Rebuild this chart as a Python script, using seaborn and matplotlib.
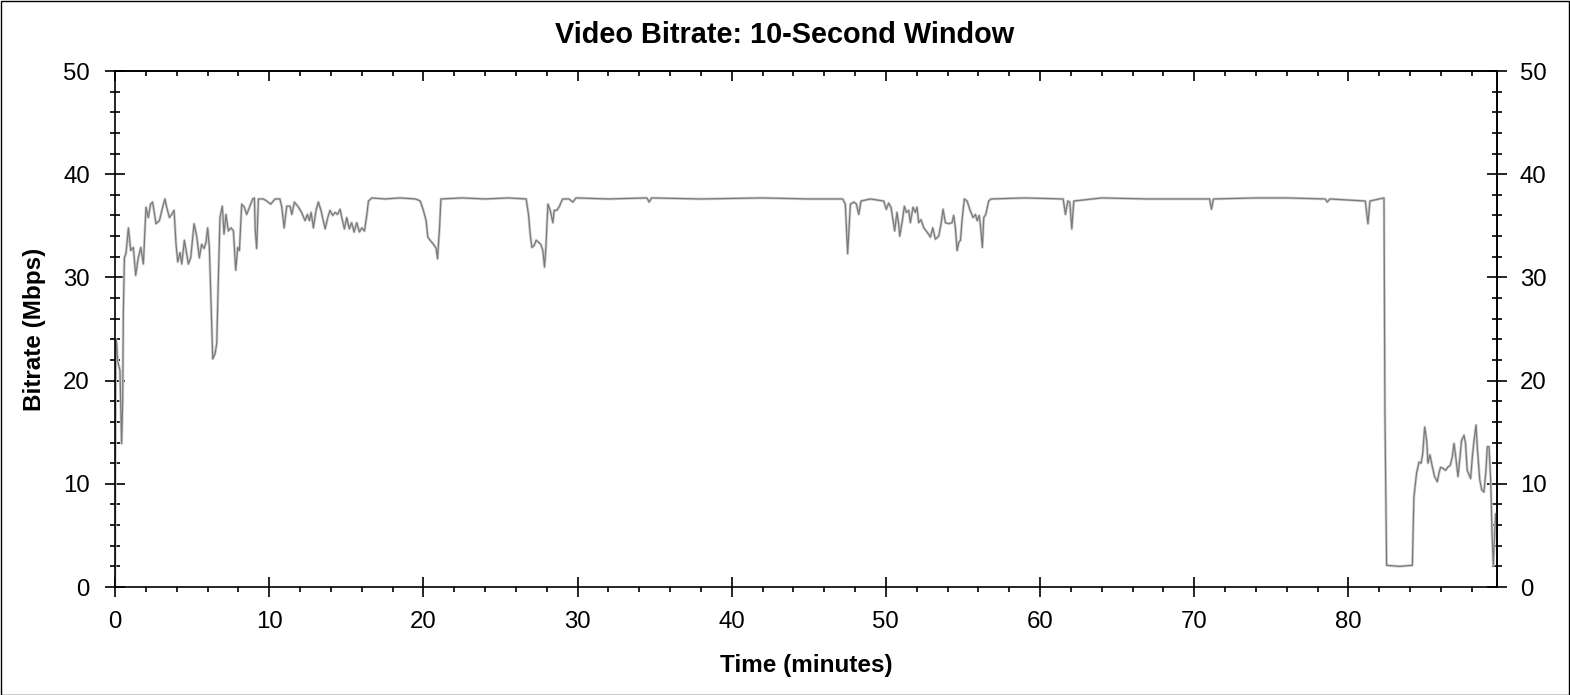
import matplotlib
matplotlib.use("Agg")
import matplotlib.pyplot as plt
from matplotlib.patches import Rectangle
from matplotlib.ticker import MultipleLocator
import seaborn as sns

# values (time in minutes, bitrate in Mbps)
time_min = [
    0.0, 0.05, 0.11, 0.17, 0.32, 0.43, 0.50, 0.54, 0.61, 0.71, 0.87, 1.02,
    1.19, 1.34, 1.51, 1.67, 1.84, 2.01, 2.16, 2.31, 2.44, 2.66, 2.88, 3.09,
    3.24, 3.35, 3.53, 3.68, 3.83, 3.96, 4.07, 4.22, 4.33, 4.50, 4.61, 4.76,
    4.91, 5.13, 5.30, 5.47, 5.62, 5.78, 5.90, 6.01, 6.12, 6.23, 6.34, 6.49,
    6.60, 6.70, 6.81, 6.96, 7.07, 7.20, 7.35, 7.53, 7.68, 7.83, 7.96, 8.07,
    8.22, 8.39, 8.54, 8.72, 8.93, 9.04, 9.10, 9.19, 9.30, 9.62, 9.84, 10.10,
    10.38, 10.70, 10.82, 10.97, 11.14, 11.36, 11.47, 11.64, 11.90, 12.10,
    12.33, 12.48, 12.61, 12.72, 12.87, 13.04, 13.19, 13.36, 13.63, 13.80,
    13.95, 14.12, 14.28, 14.43, 14.60, 14.71, 14.88, 15.03, 15.20, 15.35,
    15.51, 15.68, 15.85, 16.01, 16.18, 16.33, 16.44, 16.66, 17.5, 18.5, 19.5,
    19.80, 20.00, 20.18, 20.29, 20.44, 20.66, 20.83, 20.92, 21.05, 21.14,
    22.5, 24.0, 25.5, 26.67, 26.82, 26.93, 27.04, 27.19, 27.32, 27.47, 27.62,
    27.75, 27.86, 27.95, 28.08, 28.23, 28.40, 28.49, 28.66, 28.83, 29.03,
    29.45, 29.70, 29.90, 32.0, 34.50, 34.65, 34.80, 38.0, 42.0, 45.0, 47.20,
    47.37, 47.52, 47.70, 47.92, 48.09, 48.24, 48.39, 49.0, 49.86, 50.03,
    50.18, 50.33, 50.47, 50.57, 50.72, 50.83, 50.90, 51.07, 51.20, 51.33,
    51.48, 51.59, 51.76, 51.91, 52.02, 52.13, 52.28, 52.46, 52.67, 52.89,
    53.04, 53.21, 53.43, 53.58, 53.71, 53.86, 54.08, 54.29, 54.40, 54.51,
    54.62, 54.73, 54.84, 54.94, 55.09, 55.27, 55.44, 55.66, 55.81, 55.92,
    56.05, 56.14, 56.26, 56.35, 56.48, 56.67, 56.82, 59.0, 61.50, 61.65,
    61.80, 61.93, 62.06, 62.19, 64.0, 67.0, 71.00, 71.12, 71.25, 74.0, 76.0,
    78.50, 78.63, 78.80, 81.10, 81.27, 81.40, 82.31, 82.37, 82.48, 83.3,
    84.15, 84.25, 84.42, 84.58, 84.72, 84.82, 84.95, 85.08, 85.16, 85.29,
    85.44, 85.59, 85.77, 85.87, 85.98, 86.14, 86.30, 86.44, 86.61, 86.74,
    86.85, 86.94, 87.11, 87.24, 87.34, 87.50, 87.60, 87.71, 87.93, 88.04,
    88.15, 88.28, 88.36, 88.52, 88.65, 88.79, 88.91, 89.01, 89.12, 89.23,
    89.32, 89.40, 89.49, 89.55, 89.60,
]
bitrate_mbps = [
    0.0, 24.0, 23.6, 21.9, 21.0, 13.9, 18.1, 26.5, 31.9, 32.3, 34.8, 32.6,
    32.9, 30.2, 31.9, 32.9, 31.3, 36.8, 35.8, 37.1, 37.3, 35.2, 35.5, 36.8,
    37.6, 36.8, 35.8, 36.1, 36.5, 33.2, 31.5, 32.4, 31.3, 33.6, 32.6, 31.3,
    31.9, 35.2, 34.0, 31.9, 33.2, 32.8, 33.4, 34.8, 32.9, 27.4, 22.1, 22.6,
    23.6, 29.7, 35.8, 36.9, 34.2, 36.1, 34.5, 34.8, 34.5, 30.7, 32.9, 32.6,
    37.1, 36.8, 36.1, 36.8, 37.6, 37.7, 34.5, 32.8, 37.6, 37.6, 37.4, 37.1,
    37.6, 37.6, 36.8, 34.8, 36.9, 36.9, 36.1, 37.3, 36.8, 36.3,
    35.5, 36.1, 35.5, 36.3, 34.8, 36.5, 37.3, 36.5, 34.7, 35.8,
    36.5, 36.0, 36.3, 36.1, 36.6, 35.8, 34.7, 35.8, 34.7, 35.3,
    34.4, 35.3, 34.4, 34.8, 34.5, 36.0, 37.4, 37.7, 37.6, 37.7, 37.6,
    37.4, 36.5, 35.5, 33.9, 33.6, 33.2, 32.8, 31.8, 34.8, 37.6,
    37.7, 37.6, 37.7, 37.6, 36.1, 34.2, 32.9, 33.1, 33.6, 33.4, 33.2,
    32.6, 31.0, 32.9, 37.1, 36.5, 35.3, 36.5, 36.5, 36.9, 37.6,
    37.6, 37.3, 37.7, 37.6, 37.7, 37.3, 37.7, 37.6, 37.7, 37.6, 37.6,
    37.1, 32.3, 37.1, 37.3, 37.1, 36.1, 37.4, 37.6, 37.4, 36.6,
    37.2, 36.8, 35.5, 34.5, 36.3, 35.2, 34.0, 35.5, 36.9, 36.3,
    36.5, 35.3, 36.8, 36.3, 36.8, 35.3, 35.6, 34.8, 34.4, 33.9,
    34.8, 33.7, 34.0, 35.2, 36.6, 35.3, 35.2, 35.3, 36.0, 34.8,
    32.6, 33.4, 33.6, 35.5, 37.6, 37.4, 36.6, 35.8, 36.1, 35.5,
    36.0, 35.0, 32.9, 35.8, 36.1, 37.4, 37.6, 37.7, 37.6, 36.1,
    37.4, 37.3, 34.7, 37.4, 37.7, 37.6, 37.6, 36.6, 37.6, 37.7, 37.7,
    37.6, 37.3, 37.6, 37.4, 35.2, 37.4, 37.7, 16.8, 2.1, 2.0,
    2.1, 8.7, 11.0, 12.1, 12.0, 12.9, 15.5, 14.2, 12.0, 12.8,
    11.7, 10.7, 10.2, 11.0, 11.6, 11.5, 11.3, 11.6, 11.8, 12.6,
    13.9, 12.9, 10.7, 12.6, 14.2, 14.7, 13.9, 11.3, 10.5, 12.6,
    14.2, 15.7, 13.6, 10.4, 9.4, 9.2, 11.0, 13.6, 13.6, 10.4,
    5.2, 2.1, 5.0, 7.1, 6.9,
]

x_ticks = [0, 10, 20, 30, 40, 50, 60, 70, 80]
y_ticks = [0, 10, 20, 30, 40, 50]


def main():
    sns.set_style("white")
    plt.rcParams["font.family"] = ["Liberation Sans", "DejaVu Sans"]
    plt.rcParams["text.color"] = "black"
    plt.rcParams["axes.labelcolor"] = "black"
    plt.rcParams["xtick.color"] = "black"
    plt.rcParams["ytick.color"] = "black"

    fig = plt.figure(figsize=(15.7, 6.95), dpi=100)
    ax = fig.add_axes([115 / 1570, 1 - 587 / 695, 1382 / 1570, 516 / 695])

    # light halo under the main trace
    sns.lineplot(x=time_min, y=bitrate_mbps, ax=ax, color="#d0d0d0",
                 linewidth=2.0, estimator=None, sort=False)
    sns.lineplot(x=time_min, y=bitrate_mbps, ax=ax, color="#7a7a7a",
                 linewidth=0.9, estimator=None, sort=False)

    ax.set_xlim(0, 89.64)
    ax.set_ylim(0, 50)
    ax.set_xticks(x_ticks)
    ax.set_yticks(y_ticks)
    ax.xaxis.set_minor_locator(MultipleLocator(2))
    ax.yaxis.set_minor_locator(MultipleLocator(2))

    for s in ax.spines.values():
        s.set_visible(True)
        s.set_color("black")
        s.set_linewidth(1.2)

    ax.tick_params(axis="y", which="major", direction="inout", length=13.7,
                   width=1.2, pad=11.2, labelsize=17.3, colors="black",
                   left=True, right=False)
    ax.tick_params(axis="y", which="minor", direction="inout", length=6.5,
                   width=1.2, left=True, right=False)
    ax.tick_params(axis="x", which="major", direction="inout", length=13.7,
                   width=1.2, pad=10.4, labelsize=17.3, colors="black",
                   bottom=True, top=False)
    ax.tick_params(axis="x", which="minor", direction="out", length=3.6,
                   width=1.2, bottom=True, top=False)

    # top: inward ticks only
    top = ax.secondary_xaxis("top")
    top.set_xticks(x_ticks)
    top.xaxis.set_minor_locator(MultipleLocator(2))
    top.tick_params(which="major", direction="in", length=7.2, width=1.2,
                    labeltop=False, colors="black")
    top.tick_params(which="minor", direction="in", length=3.6, width=1.2,
                    colors="black")
    top.spines["top"].set_linewidth(1.2)
    top.spines["top"].set_color("black")

    # right: mirrored value axis with labels
    right = ax.secondary_yaxis("right")
    right.set_yticks(y_ticks)
    right.yaxis.set_minor_locator(MultipleLocator(2))
    right.tick_params(which="major", direction="inout", length=13.7,
                      width=1.2, pad=9.7, labelsize=17.3, colors="black")
    right.tick_params(which="minor", direction="inout", length=6.5,
                      width=1.2, colors="black")
    right.spines["right"].set_linewidth(1.2)
    right.spines["right"].set_color("black")

    ax.set_xlabel("Time (minutes)", fontsize=17.5, fontweight="bold",
                  va="baseline", color="black")
    ax.xaxis.set_label_coords(0.5, (587 - 671.7) / 516)
    ax.set_ylabel("Bitrate (Mbps)", fontsize=17.5, fontweight="bold",
                  va="baseline", color="black")
    ax.yaxis.set_label_coords((41 - 115) / 1382, 0.5)

    fig.text(0.5, 1 - 43.3 / 695, "Video Bitrate: 10-Second Window",
             ha="center", va="baseline", fontsize=20.8, fontweight="bold",
             color="black")

    fig.add_artist(Rectangle((0.5 / 1570, 0.5 / 695), 1 - 1.5 / 1570,
                             1 - 1.5 / 695, transform=fig.transFigure,
                             fill=False, edgecolor="black", linewidth=1.0))

    plt.savefig("out.png", dpi=100)
    plt.close()


if __name__ == "__main__":
    main()
